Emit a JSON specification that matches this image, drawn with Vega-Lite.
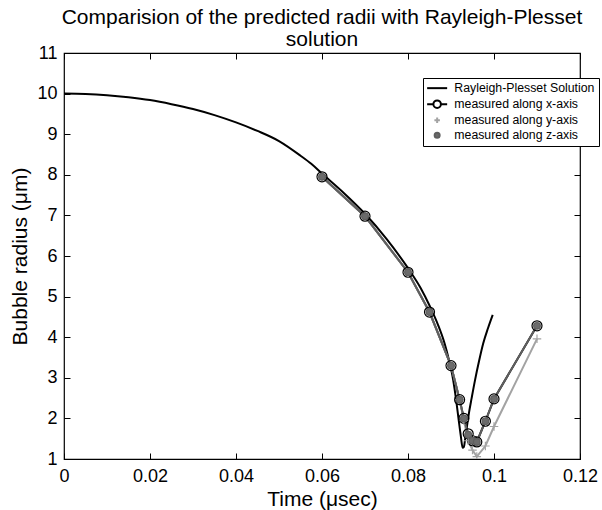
{
  "$schema": "https://vega.github.io/schema/vega-lite/v6.json",
  "width": 516,
  "height": 406,
  "autosize": {"type": "none"},
  "padding": {"left": 64, "top": 53, "right": 22, "bottom": 51},
  "background": "white",
  "title": {
    "text": ["Comparision of the predicted radii with Rayleigh-Plesset", "solution"],
    "anchor": "middle",
    "frame": "group",
    "offset": -6,
    "lineHeight": 22
  },
  "datasets": {
    "radius": [
      {"series": "Rayleigh-Plesset Solution", "t": 0, "r": 10.0},
      {"series": "Rayleigh-Plesset Solution", "t": 0.005, "r": 9.99},
      {"series": "Rayleigh-Plesset Solution", "t": 0.01, "r": 9.96},
      {"series": "Rayleigh-Plesset Solution", "t": 0.015, "r": 9.91},
      {"series": "Rayleigh-Plesset Solution", "t": 0.02, "r": 9.84},
      {"series": "Rayleigh-Plesset Solution", "t": 0.025, "r": 9.74},
      {"series": "Rayleigh-Plesset Solution", "t": 0.03, "r": 9.62},
      {"series": "Rayleigh-Plesset Solution", "t": 0.035, "r": 9.47},
      {"series": "Rayleigh-Plesset Solution", "t": 0.04, "r": 9.29},
      {"series": "Rayleigh-Plesset Solution", "t": 0.045, "r": 9.08},
      {"series": "Rayleigh-Plesset Solution", "t": 0.05, "r": 8.83},
      {"series": "Rayleigh-Plesset Solution", "t": 0.055, "r": 8.47},
      {"series": "Rayleigh-Plesset Solution", "t": 0.0575, "r": 8.27},
      {"series": "Rayleigh-Plesset Solution", "t": 0.06, "r": 8.03},
      {"series": "Rayleigh-Plesset Solution", "t": 0.065, "r": 7.56},
      {"series": "Rayleigh-Plesset Solution", "t": 0.07, "r": 7.04},
      {"series": "Rayleigh-Plesset Solution", "t": 0.075, "r": 6.42},
      {"series": "Rayleigh-Plesset Solution", "t": 0.08, "r": 5.7},
      {"series": "Rayleigh-Plesset Solution", "t": 0.083, "r": 5.2},
      {"series": "Rayleigh-Plesset Solution", "t": 0.085, "r": 4.78},
      {"series": "Rayleigh-Plesset Solution", "t": 0.087, "r": 4.3},
      {"series": "Rayleigh-Plesset Solution", "t": 0.0885, "r": 3.85},
      {"series": "Rayleigh-Plesset Solution", "t": 0.0895, "r": 3.45},
      {"series": "Rayleigh-Plesset Solution", "t": 0.0905, "r": 2.95},
      {"series": "Rayleigh-Plesset Solution", "t": 0.0912, "r": 2.45},
      {"series": "Rayleigh-Plesset Solution", "t": 0.0918, "r": 1.95},
      {"series": "Rayleigh-Plesset Solution", "t": 0.0923, "r": 1.55},
      {"series": "Rayleigh-Plesset Solution", "t": 0.0927, "r": 1.28},
      {"series": "Rayleigh-Plesset Solution", "t": 0.093, "r": 1.3},
      {"series": "Rayleigh-Plesset Solution", "t": 0.0933, "r": 1.5},
      {"series": "Rayleigh-Plesset Solution", "t": 0.0937, "r": 1.8},
      {"series": "Rayleigh-Plesset Solution", "t": 0.0942, "r": 2.15},
      {"series": "Rayleigh-Plesset Solution", "t": 0.0948, "r": 2.5},
      {"series": "Rayleigh-Plesset Solution", "t": 0.0956, "r": 2.95},
      {"series": "Rayleigh-Plesset Solution", "t": 0.0965, "r": 3.4},
      {"series": "Rayleigh-Plesset Solution", "t": 0.0975, "r": 3.85},
      {"series": "Rayleigh-Plesset Solution", "t": 0.0986, "r": 4.22},
      {"series": "Rayleigh-Plesset Solution", "t": 0.0997, "r": 4.55},

      {"series": "measured along x-axis", "t": 0.06, "r": 7.95},
      {"series": "measured along x-axis", "t": 0.07, "r": 6.98},
      {"series": "measured along x-axis", "t": 0.08, "r": 5.6},
      {"series": "measured along x-axis", "t": 0.085, "r": 4.62},
      {"series": "measured along x-axis", "t": 0.09, "r": 3.3},
      {"series": "measured along x-axis", "t": 0.092, "r": 2.46},
      {"series": "measured along x-axis", "t": 0.093, "r": 2.0},
      {"series": "measured along x-axis", "t": 0.094, "r": 1.62},
      {"series": "measured along x-axis", "t": 0.095, "r": 1.45},
      {"series": "measured along x-axis", "t": 0.096, "r": 1.42},
      {"series": "measured along x-axis", "t": 0.098, "r": 1.93},
      {"series": "measured along x-axis", "t": 0.1, "r": 2.48},
      {"series": "measured along x-axis", "t": 0.11, "r": 4.28},

      {"series": "measured along y-axis", "t": 0.06, "r": 7.95},
      {"series": "measured along y-axis", "t": 0.07, "r": 6.98},
      {"series": "measured along y-axis", "t": 0.08, "r": 5.6},
      {"series": "measured along y-axis", "t": 0.085, "r": 4.62},
      {"series": "measured along y-axis", "t": 0.09, "r": 3.3},
      {"series": "measured along y-axis", "t": 0.092, "r": 2.46},
      {"series": "measured along y-axis", "t": 0.093, "r": 1.95},
      {"series": "measured along y-axis", "t": 0.094, "r": 1.45},
      {"series": "measured along y-axis", "t": 0.095, "r": 1.22},
      {"series": "measured along y-axis", "t": 0.096, "r": 1.06},
      {"series": "measured along y-axis", "t": 0.098, "r": 1.32},
      {"series": "measured along y-axis", "t": 0.1, "r": 1.8},
      {"series": "measured along y-axis", "t": 0.11, "r": 3.96},

      {"series": "measured along z-axis", "t": 0.06, "r": 7.95},
      {"series": "measured along z-axis", "t": 0.07, "r": 6.98},
      {"series": "measured along z-axis", "t": 0.08, "r": 5.6},
      {"series": "measured along z-axis", "t": 0.085, "r": 4.62},
      {"series": "measured along z-axis", "t": 0.09, "r": 3.3},
      {"series": "measured along z-axis", "t": 0.092, "r": 2.46},
      {"series": "measured along z-axis", "t": 0.093, "r": 2.0},
      {"series": "measured along z-axis", "t": 0.094, "r": 1.6},
      {"series": "measured along z-axis", "t": 0.095, "r": 1.45},
      {"series": "measured along z-axis", "t": 0.096, "r": 1.42},
      {"series": "measured along z-axis", "t": 0.098, "r": 1.93},
      {"series": "measured along z-axis", "t": 0.1, "r": 2.48},
      {"series": "measured along z-axis", "t": 0.11, "r": 4.28}
    ]
  },
  "data": {"name": "radius"},
  "layer": [
    {
      "transform": [{"filter": "datum.series === 'Rayleigh-Plesset Solution'"}],
      "mark": {"type": "line", "strokeWidth": 2, "interpolate": "monotone", "clip": true},
      "encoding": {
        "x": {
          "field": "t", "type": "quantitative",
          "scale": {"domain": [0, 0.12], "nice": false, "zero": false},
          "axis": {
            "orient": "bottom",
            "offset": -6,
            "title": "Time (μsec)",
            "values": [0, 0.02, 0.04, 0.06, 0.08, 0.1, 0.12],
            "format": ".2~g",
            "labelPadding": 8,
            "titlePadding": 3
          }
        },
        "y": {
          "field": "r", "type": "quantitative",
          "scale": {"domain": [1, 11], "nice": false, "zero": false},
          "axis": {
            "orient": "left",
            "offset": -6,
            "title": "Bubble radius (μm)",
            "values": [1, 2, 3, 4, 5, 6, 7, 8, 9, 10, 11],
            "format": "d",
            "labelPadding": 7,
            "titlePadding": 6
          }
        },
        "stroke": {
          "field": "series", "type": "nominal",
          "scale": {
            "domain": ["Rayleigh-Plesset Solution", "measured along x-axis", "measured along y-axis", "measured along z-axis"],
            "range": ["#000000", "#000000", "#a3a3a3", "#5f5f5f"]
          },
          "legend": {
            "title": null,
            "orient": "none",
            "legendX": 359,
            "legendY": 25,
            "strokeColor": "#000000",
            "fillColor": "#ffffff",
            "padding": 4,
            "symbolOffset": 4,
            "labelFont": "Liberation Sans",
            "labelFontSize": 12.3,
            "labelColor": "#000000",
            "symbolSize": 100,
            "symbolType": "M-2,0H2",
            "rowPadding": 1,
            "labelOffset": 11,
            "encode": {
              "symbols": {
                "update": {
                  "shape": {"signal": "datum.value === 'measured along x-axis' ? 'M-2,0H-0.75A0.75,0.75 0 1,1 0.75,0A0.75,0.75 0 1,1 -0.75,0M0.75,0H2' : datum.value === 'measured along y-axis' ? 'M-0.55,0H0.55M0,-0.55V0.55' : datum.value === 'measured along z-axis' ? 'M0.5,0A0.5,0.5 0 1,1 -0.5,0A0.5,0.5 0 1,1 0.5,0' : 'M-2,0H2'"},
                  "fill": {"signal": "datum.value === 'measured along x-axis' ? '#ffffff' : datum.value === 'measured along z-axis' ? '#6b6b6b' : 'transparent'"},
                  "stroke": {"signal": "datum.value === 'measured along y-axis' ? '#a3a3a3' : datum.value === 'measured along z-axis' ? '#6b6b6b' : '#000000'"},
                  "strokeWidth": {"value": 2},
                  "opacity": {"value": 1}
                }
              }
            }
          }
        }
      }
    },
    {
      "transform": [{"filter": "datum.series !== 'Rayleigh-Plesset Solution'"}],
      "mark": {"type": "line", "strokeWidth": 2, "clip": true},
      "encoding": {
        "x": {"field": "t", "type": "quantitative", "axis": null},
        "y": {"field": "r", "type": "quantitative", "axis": null},
        "stroke": {"field": "series", "type": "nominal"}
      }
    },
    {
      "transform": [{"filter": "datum.series !== 'Rayleigh-Plesset Solution'"}],
      "mark": {"type": "point", "filled": false, "strokeWidth": 1.2, "opacity": 1, "clip": true},
      "encoding": {
        "x": {
          "field": "t", "type": "quantitative",
          "axis": {"orient": "top", "offset": -6, "title": null, "labels": false, "values": [0, 0.02, 0.04, 0.06, 0.08, 0.1, 0.12]}
        },
        "y": {
          "field": "r", "type": "quantitative",
          "axis": {"orient": "right", "offset": -6, "title": null, "labels": false, "values": [1, 2, 3, 4, 5, 6, 7, 8, 9, 10, 11]}
        },
        "shape": {
          "field": "series", "type": "nominal",
          "scale": {
            "domain": ["measured along x-axis", "measured along y-axis", "measured along z-axis"],
            "range": ["circle", "M-1,0H1M0,-1V1", "circle"]
          },
          "legend": null
        },
        "fill": {
          "field": "series", "type": "nominal",
          "scale": {
            "domain": ["measured along x-axis", "measured along y-axis", "measured along z-axis"],
            "range": ["transparent", "transparent", "#6b6b6b"]
          },
          "legend": null
        },
        "stroke": {"field": "series", "type": "nominal", "legend": null},
        "size": {
          "field": "series", "type": "nominal",
          "scale": {
            "domain": ["measured along x-axis", "measured along y-axis", "measured along z-axis"],
            "range": [100, 45, 80]
          },
          "legend": null
        }
      }
    }
  ],
  "resolve": {"axis": {"x": "independent", "y": "independent"}},
  "config": {
    "view": {"stroke": "#000000", "strokeWidth": 1.2},
    "font": "Liberation Sans",
    "title": {"font": "Liberation Sans", "fontSize": 21, "fontWeight": "normal", "color": "#000000"},
    "axis": {
      "grid": false,
      "domain": false,
      "tickColor": "#000000",
      "tickSize": 6,
      "tickWidth": 1,
      "labelFlush": false,
      "labelOverlap": false,
      "labelFont": "Liberation Sans",
      "labelFontSize": 18,
      "labelColor": "#000000",
      "titleFont": "Liberation Sans",
      "titleFontSize": 21,
      "titleFontWeight": "normal",
      "titleColor": "#000000"
    }
  }
}
